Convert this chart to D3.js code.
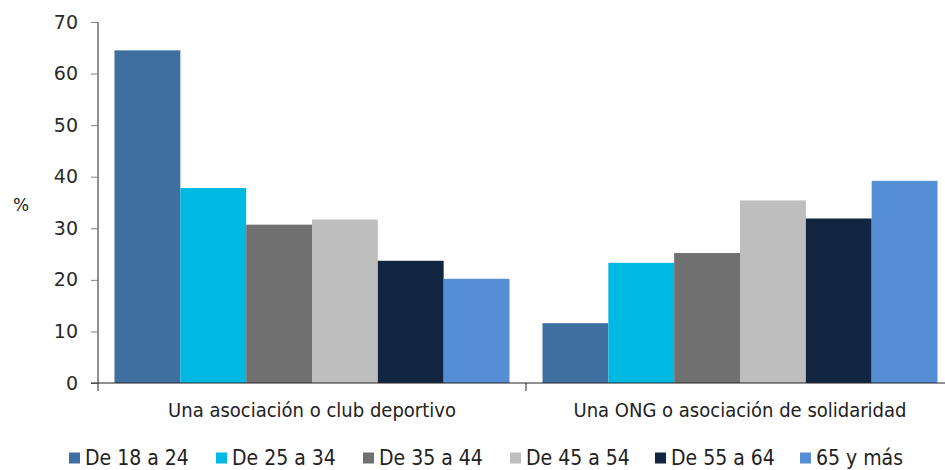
<!DOCTYPE html>
<html>
<head>
<meta charset="utf-8">
<script src="https://cdn.jsdelivr.net/npm/d3@7"></script>
<style>
  body { margin: 0; background: #fff; }
  svg { display: block; }
</style>
</head>
<body>
<svg id="chart"></svg>
<script>
const categories = ["Una asociación o club deportivo", "Una ONG o asociación de solidaridad"];
const ageGroups = ["De 18 a 24", "De 25 a 34", "De 35 a 44", "De 45 a 54", "De 55 a 64", "65 y más"];
const clubValues = [64.5, 37.8, 30.7, 31.7, 23.7, 20.2];
const ongValues = [11.6, 23.3, 25.2, 35.4, 31.9, 39.2];
const yTicks = [0, 10, 20, 30, 40, 50, 60, 70];
const colors = ["#3E6FA0", "#00B9E2", "#707070", "#BEBEBE", "#132641", "#558ED5"];

const width = 945;
const height = 470;
const margin = { top: 22, right: -9, bottom: 87, left: 98 };

const svg = d3.select("#chart")
    .attr("width", width)
    .attr("height", height)
    .attr("viewBox", [0, 0, width, height]);

const rows = [clubValues, ongValues];
const data = categories.map((c, i) => ({
  category: c,
  values: ageGroups.map((g, j) => ({ group: g, value: rows[i][j] }))
}));

const x0 = d3.scaleBand()
    .domain(categories)
    .range([margin.left, width - margin.right]);

const x1 = d3.scaleBand()
    .domain(ageGroups)
    .range([16.5, x0.bandwidth() - 16.5]);

const y = d3.scaleLinear()
    .domain([0, 70])
    .range([height - margin.bottom, margin.top]);

const tickFont = "'DejaVu Sans', sans-serif";
const labelFont = "'Liberation Sans Narrow', 'DejaVu Sans Condensed', sans-serif";

// bars
svg.append("g")
  .selectAll("g")
  .data(data)
  .join("g")
    .attr("transform", d => `translate(${x0(d.category)},0)`)
  .selectAll("rect")
  .data(d => d.values)
  .join("rect")
    .attr("x", d => x1(d.group))
    .attr("y", d => y(d.value))
    .attr("width", x1.bandwidth())
    .attr("height", d => y(0) - y(d.value))
    .attr("fill", (d, i) => colors[i]);

// y axis
svg.append("g")
    .attr("transform", `translate(${margin.left},0)`)
    .call(d3.axisLeft(y).tickValues(yTicks).tickSize(7).tickPadding(13))
    .call(g => {
      g.select(".domain").attr("stroke", "#222").attr("d", `M0,${y(70)}V${y(0) + 8}`);
      g.selectAll(".tick line").attr("stroke", "#808080");
      g.selectAll(".tick text")
        .attr("font-family", tickFont)
        .attr("font-size", 19)
        .attr("fill", "#2a2a2a");
    });

// x axis
const xAxis = svg.append("g")
    .attr("transform", `translate(0,${y(0)})`);

xAxis.append("line")
    .attr("x1", margin.left - 7)
    .attr("x2", width)
    .attr("stroke", "#222");

xAxis.selectAll(".sep")
  .data(categories.slice(1))
  .join("line")
    .attr("class", "sep")
    .attr("x1", d => x0(d))
    .attr("x2", d => x0(d))
    .attr("y2", 8)
    .attr("stroke", "#222");

xAxis.selectAll(".cat")
  .data(categories)
  .join("text")
    .attr("class", "cat")
    .attr("x", d => x0(d) + x0.bandwidth() / 2)
    .attr("y", 34)
    .attr("text-anchor", "middle")
    .attr("font-family", labelFont)
    .attr("font-size", 20)
    .attr("fill", "#222")
    .text(d => d);

// y label
svg.append("text")
    .attr("x", 21)
    .attr("y", 211)
    .attr("text-anchor", "middle")
    .attr("font-family", tickFont)
    .attr("font-size", 17)
    .attr("fill", "#222")
    .text("%");

// legend
const legendX = [69, 216, 363, 510, 655, 800];
const legend = svg.append("g")
    .attr("transform", `translate(0,458)`);

const item = legend.selectAll("g")
  .data(ageGroups)
  .join("g")
    .attr("transform", (d, i) => `translate(${legendX[i]},0)`);

item.append("rect")
    .attr("y", -5.5)
    .attr("width", 11)
    .attr("height", 11)
    .attr("fill", (d, i) => colors[i]);

item.append("text")
    .attr("x", 16)
    .attr("y", 7)
    .attr("font-family", labelFont)
    .attr("font-size", 21)
    .attr("fill", "#222")
    .text(d => d);
</script>
</body>
</html>
